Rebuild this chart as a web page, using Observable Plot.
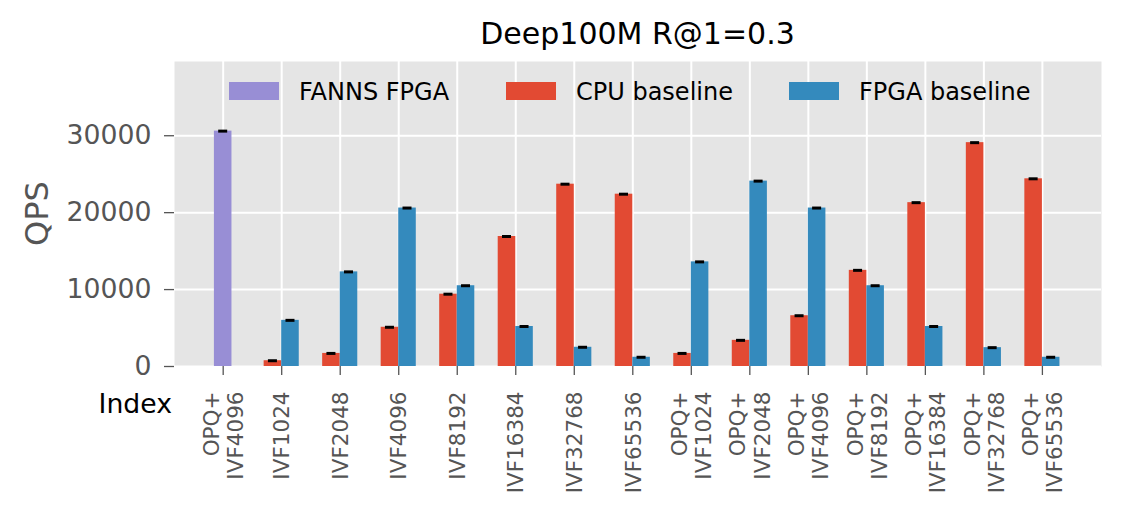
<!DOCTYPE html>
<html>
<head>
<meta charset="utf-8">
<script src="https://cdn.jsdelivr.net/npm/d3@7"></script>
<script src="https://cdn.jsdelivr.net/npm/@observablehq/plot@0.6"></script>
<style>
  html, body { margin: 0; padding: 0; background: white; }
  svg { font-family: "DejaVu Sans", sans-serif; }
</style>
</head>
<body>
<div id="chart"></div>
<script>
// ---- data ----
const title = "Deep100M R@1=0.3";
const indexLabels = [
  "OPQ+\nIVF4096", "IVF1024", "IVF2048", "IVF4096", "IVF8192", "IVF16384", "IVF32768", "IVF65536",
  "OPQ+\nIVF1024", "OPQ+\nIVF2048", "OPQ+\nIVF4096", "OPQ+\nIVF8192", "OPQ+\nIVF16384", "OPQ+\nIVF32768", "OPQ+\nIVF65536"
];
const fannsQPS = [30600];           // index 0 only
const cpuQPS = [null, 750, 1700, 5100, 9400, 16900, 23700, 22400, 1700, 3400, 6600, 12500, 21300, 29100, 24400];
const fpgaQPS = [null, 6000, 12300, 20600, 10500, 5200, 2500, 1200, 13600, 24100, 20600, 10500, 5200, 2450, 1200];
const yTicks = [0, 10000, 20000, 30000];
const seriesNames = ["FANNS FPGA", "CPU baseline", "FPGA baseline"];
const seriesColors = ["#988ED5", "#E24A33", "#348ABD"];

// ---- table ----
const bw = 0.3;
const bars = [];
fannsQPS.forEach((v, i) => bars.push({ c: i, v, s: 0 }));
cpuQPS.forEach((v, i) => { if (v != null) bars.push({ c: i - bw / 2, v, s: 1 }); });
fpgaQPS.forEach((v, i) => { if (v != null) bars.push({ c: i + bw / 2, v, s: 2 }); });
const idx = indexLabels.map((_, i) => i);

const W = 1122, H = 512, mL = 174, mR = 21, mT = 61, mB = 146;

const chart = Plot.plot({
  width: W, height: H,
  marginLeft: mL, marginRight: mR, marginTop: mT, marginBottom: mB,
  style: { fontFamily: "DejaVu Sans, sans-serif", background: "white", overflow: "visible" },
  x: { type: "linear", domain: [-0.832, 15.01], axis: null },
  y: { domain: [0, 39650], axis: null },
  marks: [
    Plot.frame({ fill: "#E5E5E5", stroke: null }),
    Plot.gridX(idx, { x: d => d, stroke: "white", strokeOpacity: 1, strokeWidth: 2 }),
    Plot.gridY(yTicks, { y: d => d, stroke: "white", strokeOpacity: 1, strokeWidth: 2 }),
    Plot.rectY(bars, {
      x1: d => d.c - bw / 2, x2: d => d.c + bw / 2, y1: 0, y2: "v",
      fill: d => seriesColors[d.s]
    }),
    Plot.ruleY(bars, {
      x1: d => d.c - 0.077, x2: d => d.c + 0.077, y: "v",
      stroke: "black", strokeWidth: 3
    }),
    Plot.axisY({
      ticks: yTicks, tickSize: 10, tickPadding: 13, fontSize: 26.7,
      color: "#555", label: null, tickFormat: d3.format("d"), strokeWidth: 1.3
    }),
    Plot.axisX({
      ticks: idx, tickSize: 9, tickFormat: () => "", color: "#555", label: null, strokeWidth: 1.3
    }),
    Plot.text(idx, {
      x: d => d, y: () => 0, text: d => indexLabels[d],
      textAnchor: "end", rotate: -90, dy: 25, lineAnchor: "middle", lineHeight: 1.12,
      fontSize: 21.5, fill: "#555", ariaLabel: "xlabels"
    })
  ]
});

document.getElementById("chart").appendChild(chart);

// center multi-line rotated labels along their own axis (matplotlib-like)
chart.querySelectorAll('g[aria-label="xlabels"] text').forEach(t => {
  const spans = t.querySelectorAll("tspan");
  let L = 0;
  if (spans.length) spans.forEach(s => { L = Math.max(L, s.getComputedTextLength()); });
  else L = t.getComputedTextLength();
  t.setAttribute("text-anchor", "middle");
  const tr = t.getAttribute("transform") || "";
  t.setAttribute("transform", tr + ` translate(${-L / 2},0)`);
});

// title, axis labels, legend
const svg = d3.select(chart);
const cx = (mL + (W - mR)) / 2;
svg.append("text").attr("x", cx).attr("y", 44).attr("text-anchor", "middle")
  .attr("font-size", 30).attr("fill", "black").text(title);
svg.append("text").attr("transform", `translate(48,${(mT + H - mB) / 2}) rotate(-90)`)
  .attr("text-anchor", "middle").attr("font-size", 32).attr("fill", "#555").text("QPS");
svg.append("text").attr("x", 172).attr("y", 413).attr("text-anchor", "end")
  .attr("font-size", 26.7).attr("fill", "black").text("Index");

const legendX = [229, 506, 789];
const lg = svg.append("g").attr("text-anchor", "start");
seriesNames.forEach((name, i) => {
  lg.append("rect").attr("x", legendX[i]).attr("y", 82).attr("width", 50).attr("height", 18)
    .attr("fill", seriesColors[i]);
  lg.append("text").attr("x", legendX[i] + 70).attr("y", 100).attr("text-anchor", "start")
    .attr("font-size", 24).attr("fill", "black").text(name);
});
</script>
</body>
</html>
